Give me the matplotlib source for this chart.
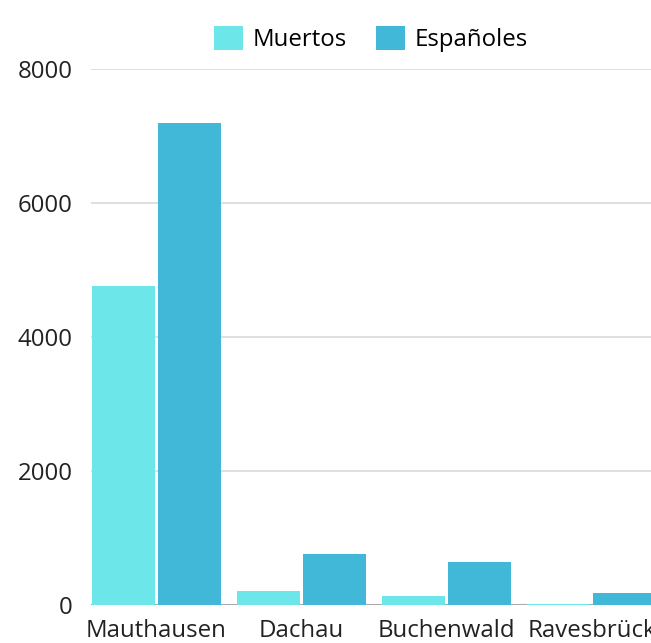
import matplotlib

matplotlib.use("Agg")
import matplotlib.pyplot as plt
import numpy as np

plt.rcParams["font.family"] = ["Open Sans", "DejaVu Sans"]

campos = ["Mauthausen", "Dachau", "Buchenwald", "Ravesbrück"]
muertos = [4760, 210, 135, 20]
espanoles = [7190, 760, 640, 175]
y_ticks = [0, 2000, 4000, 6000, 8000]

COLOR_MUERTOS = "#6de6e9"
COLOR_ESP = "#42b8d8"

fig = plt.figure(figsize=(6.51, 6.43), dpi=100)
ax = fig.add_axes([91 / 651, 38 / 643, 1 - 91 / 651, 536 / 643])

x = np.arange(len(campos))
w = 0.435
ax.bar(x - 0.229, muertos, w, color=COLOR_MUERTOS, label="Muertos", zorder=3)
ax.bar(x + 0.229, espanoles, w, color=COLOR_ESP, label="Españoles", zorder=3)

ax.set_xlim(-0.45, 3.41)
ax.set_ylim(0, 8000)
ax.set_yticks(y_ticks)
ax.set_xticks(x)
ax.set_xticklabels(campos)
ax.tick_params(axis="both", length=0, labelsize=17.3, colors="#222222")
ax.tick_params(axis="y", pad=13)
ax.tick_params(axis="x", pad=10)

ax.grid(axis="y", color="#dcdcdc", lw=1.3, zorder=0)
ax.axhline(0, color="#aaaaaa", lw=1.5, zorder=2)
for s in ax.spines.values():
    s.set_visible(False)

ax.legend(loc="lower center", bbox_to_anchor=(0.5, 1.0), ncol=2, frameon=False,
          fontsize=17.3, handlelength=1.2, handleheight=1.2, handletextpad=0.4,
          columnspacing=1.2, borderaxespad=0.3)

fig.savefig("out.png", dpi=100)
